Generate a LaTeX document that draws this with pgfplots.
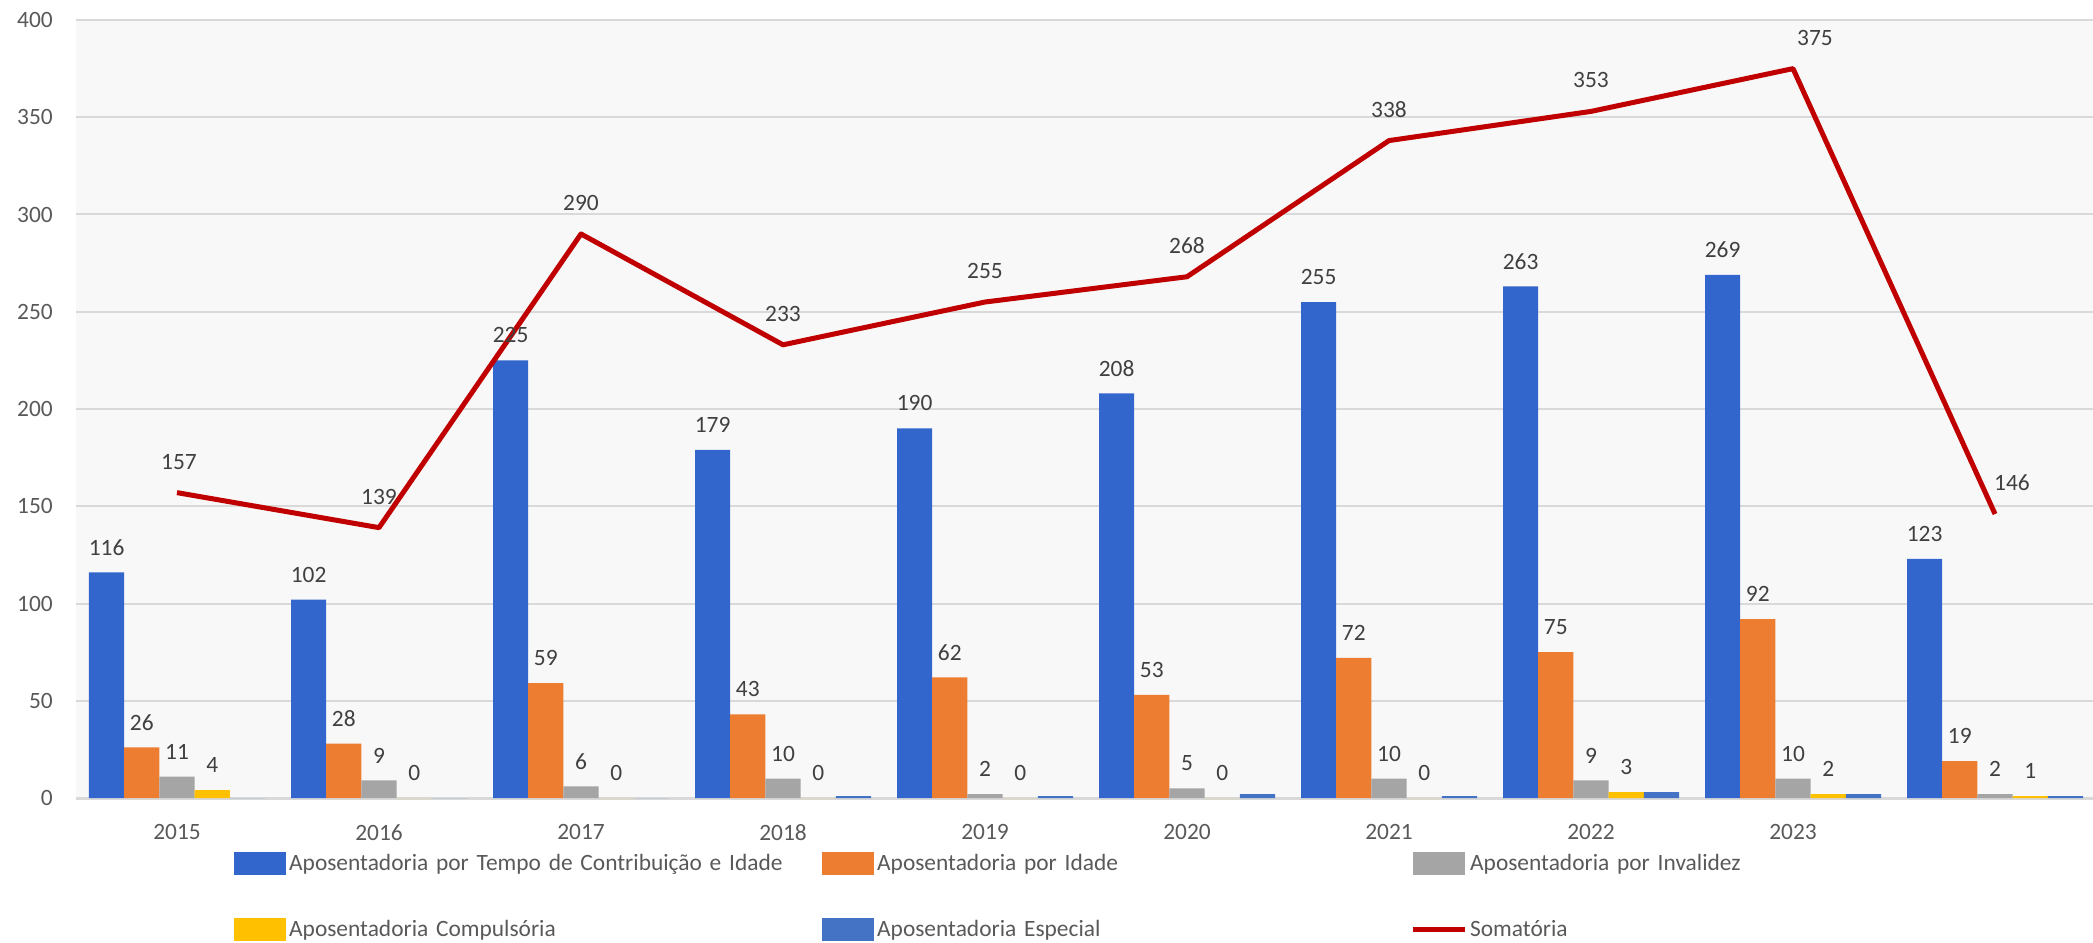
\documentclass[border=0pt]{standalone}
\usepackage{fontspec}
\setmainfont{Carlito}
\usepackage{pgfplots}
\usepackage{pgfplotstable}
\pgfplotsset{compat=1.18}

\definecolor{cTempo}{HTML}{3366CC}
\definecolor{cIdade}{HTML}{ED7D31}
\definecolor{cInval}{HTML}{A5A5A5}
\definecolor{cComp}{HTML}{FFC000}
\definecolor{cEsp}{HTML}{4472C4}
\definecolor{cSoma}{HTML}{C00000}
\definecolor{cGrid}{HTML}{D9D9D9}
\definecolor{cBack}{HTML}{F8F8F8}
\definecolor{cTick}{HTML}{595959}
\definecolor{cLabel}{HTML}{404040}

\newcommand\chartfont{\fontsize{23.4bp}{28bp}\selectfont}

\pgfplotsset{
    barlegend/.style={legend image code/.code={\fill[##1] (0bp,-11.5bp) rectangle (52bp,11.5bp);}},
    somalegend/.style={legend image code/.code={\draw[##1] (0bp,0bp) -- (52bp,0bp);}},
}

% one row per year; the last category has no year label
\pgfplotstableread{
x tempo idade inval comp esp soma dx
0 116 26 11 4 0 157 2
1 102 28 9 0 0 139 0
2 225 59 6 0 0 290 0
3 179 43 10 0 1 233 0
4 190 62 2 0 1 255 0
5 208 53 5 0 2 268 0
6 255 72 10 0 1 338 0
7 263 75 9 3 3 353 0
8 269 92 10 2 2 375 22
9 123 19 2 1 1 146 17
}\dados

\begin{document}
\begin{tikzpicture}
\useasboundingbox (-76bp,-145bp) rectangle (2017bp,798bp);
\begin{axis}[
    scale only axis,
    width=2020bp, height=778bp,
    ybar=0pt, bar width=35.2bp,
    xmin=-0.5, xmax=9.5, ymin=0, ymax=400,
    xtick={0,...,9},
    xticklabels={2015,2016,2017,2018,2019,2020,2021,2022,2023,{}},
    ytick={0,50,...,400},
    ymajorgrids,
    grid style={cGrid, line width=2bp},
    axis background/.style={fill=cBack},
    axis x line*=bottom, axis y line*=left,
    x axis line style={cGrid, line width=3bp},
    y axis line style={draw=none},
    tick style={draw=none},
    tick label style={font=\chartfont, text=cTick},
    /pgf/number format/assume math mode=true,
    xticklabel style={anchor=center, inner sep=0pt, yshift=-30bp},
    yticklabel style={anchor=east, inner sep=0pt, xshift=-23bp},
    clip=false,
    every node near coord/.append style={font=\chartfont, text=cLabel,
        anchor=center, inner sep=0pt, yshift=25bp},
    barlegend,
    legend columns=3,
    legend cell align=left,
    legend style={at={(0.0782,-0.069)}, anchor=north west, draw=none, fill=none,
        inner sep=0pt, column sep=0pt, row sep=43bp, font=\chartfont, text=cTick,
        nodes={text width=530bp, inner xsep=3bp, inner ysep=0pt, anchor=west}},
]
\addplot[fill=cTempo, draw=none, nodes near coords] table[x=x, y=tempo] {\dados};
\addlegendentry{Aposentadoria por Tempo de Contribuição e Idade}
\addplot[fill=cIdade, draw=none, nodes near coords] table[x=x, y=idade] {\dados};
\addlegendentry{Aposentadoria por Idade}
\addplot[fill=cInval, draw=none, nodes near coords] table[x=x, y=inval] {\dados};
\addlegendentry{Aposentadoria por Invalidez}
\addplot[fill=cComp, draw=none, nodes near coords] table[x=x, y=comp] {\dados};
\addlegendentry{Aposentadoria Compulsória}
\addplot[fill=cEsp, draw=none] table[x=x, y=esp] {\dados};
\addlegendentry{Aposentadoria Especial}
\addplot[sharp plot, cSoma, line width=5bp, line join=round, mark=none,
    somalegend,
    nodes near coords,
    visualization depends on={\thisrow{dx} \as \dx},
    every node near coord/.append style={yshift=6bp, xshift=\dx bp}]
    table[x=x, y=soma] {\dados};
\addlegendentry{Somatória}
\end{axis}
\end{tikzpicture}
\end{document}
